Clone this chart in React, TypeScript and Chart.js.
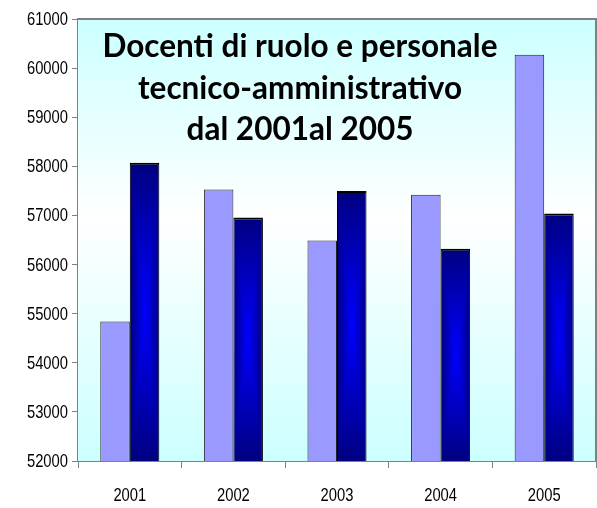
import React, { useEffect, useRef } from 'react';
import { Chart, registerables } from 'chart.js';

Chart.register(...registerables);

const years = ['2001', '2002', '2003', '2004', '2005'];
const seriesLight = [54840, 57530, 56490, 57420, 60270];
const seriesDark = [58075, 56960, 57500, 56320, 57040];
const yMin = 52000;
const yMax = 61000;
const yStep = 1000;
const titleLines = ['Docenti di ruolo e personale', 'tecnico-amministrativo', 'dal 2001al 2005'];

const CAT_PCT = 0.57;
const TICK_FONT = '"Liberation Sans", Arial, sans-serif';
const TICK_SIZE = 18;
const NARROW = 0.82;
const TITLE_FONT = 'Lato, "Open Sans", sans-serif';

function centerPattern(ctx: CanvasRenderingContext2D, bl: number, bt: number, bw: number, bh: number) {
  bw = Math.max(1, Math.round(bw));
  bh = Math.max(1, Math.round(bh));
  const off = document.createElement('canvas');
  off.width = bw;
  off.height = bh;
  const octx = off.getContext('2d') as CanvasRenderingContext2D;
  const img = octx.createImageData(bw, bh);
  const hw = bw / 2;
  const hh = bh / 2;
  for (let j = 0; j < bh; j++) {
    for (let i = 0; i < bw; i++) {
      const t = Math.min(1, Math.max(Math.abs(i + 0.5 - hw) / hw, Math.abs(j + 0.5 - hh) / hh));
      const k = (j * bw + i) * 4;
      img.data[k] = 0;
      img.data[k + 1] = 0;
      img.data[k + 2] = Math.round(255 - 127 * t);
      img.data[k + 3] = 255;
    }
  }
  octx.putImageData(img, 0, 0);
  const pat = ctx.createPattern(off, 'no-repeat');
  if (pat) pat.setTransform(new DOMMatrix().translate(Math.round(bl), Math.round(bt)));
  return pat;
}

function darkFill(c: any) {
  const chart = c.chart;
  const xs = chart.scales?.x;
  const ys = chart.scales?.y;
  const area = chart.chartArea;
  if (!xs || !ys || !area || c.dataIndex === undefined) return '#000080';
  const v = c.raw as number;
  const center = xs.getPixelForValue(c.dataIndex);
  const barW = ((area.right - area.left) / years.length) * CAT_PCT / 2;
  const top = ys.getPixelForValue(v);
  const base = ys.getPixelForValue(yMin);
  return centerPattern(chart.ctx, center, top, barW, base - top) || '#000080';
}

const backgroundPlugin = {
  id: 'plotBackground',
  beforeDatasetsDraw(chart: any) {
    const { ctx, chartArea } = chart;
    const { left, top, right, bottom } = chartArea;
    ctx.save();
    const g = ctx.createLinearGradient(0, top, 0, bottom);
    g.addColorStop(0, '#ccffff');
    g.addColorStop(0.45, '#ffffff');
    g.addColorStop(1, '#ccffff');
    ctx.fillStyle = g;
    ctx.fillRect(left, top, right - left, bottom - top);
    ctx.strokeStyle = '#808080';
    ctx.lineWidth = 2;
    ctx.beginPath();
    ctx.moveTo(left, top);
    ctx.lineTo(right, top);
    ctx.lineTo(right, bottom);
    ctx.stroke();
    ctx.restore();
  },
};

const labelsPlugin = {
  id: 'narrowTickLabels',
  afterDraw(chart: any) {
    const { ctx } = chart;
    const xs = chart.scales.x;
    const ys = chart.scales.y;
    ctx.save();
    ctx.font = `${TICK_SIZE}px ${TICK_FONT}`;
    ctx.fillStyle = '#000000';
    ctx.scale(NARROW, 1);
    ctx.textAlign = 'right';
    ctx.textBaseline = 'middle';
    ys.ticks.forEach((t: any, i: number) => {
      const y = ys.getPixelForTick(i);
      ctx.fillText(String(t.value), 68 / NARROW, y + 1);
    });
    ctx.textAlign = 'center';
    ctx.textBaseline = 'alphabetic';
    xs.ticks.forEach((t: any, i: number) => {
      const x = xs.getPixelForTick(i);
      ctx.fillText(String(xs.getLabelForValue(t.value)), x / NARROW, 501);
    });
    ctx.restore();
  },
};

const titlePlugin = {
  id: 'innerTitle',
  afterDatasetsDraw(chart: any) {
    const { ctx } = chart;
    ctx.save();
    let size = 28;
    ctx.font = `bold ${size}px ${TITLE_FONT}`;
    const w = ctx.measureText(titleLines[0]).width;
    size = size * 395 / w;
    ctx.font = `bold ${size}px ${TITLE_FONT}`;
    ctx.fillStyle = '#000000';
    ctx.textAlign = 'center';
    ctx.textBaseline = 'alphabetic';
    const baselines = [57, 98.5, 140];
    titleLines.forEach((line, i) => ctx.fillText(line, 300, baselines[i]));
    ctx.restore();
  },
};

export default function App() {
  const ref = useRef<HTMLCanvasElement | null>(null);
  useEffect(() => {
    if (!ref.current) return;
    const chart = new Chart(ref.current, {
      type: 'bar',
      data: {
        labels: years,
        datasets: [
          {
            label: 'Serie 1',
            data: seriesLight,
            backgroundColor: '#9999ff',
            borderColor: '#222222',
            borderWidth: 1,
            borderSkipped: 'bottom',
            categoryPercentage: CAT_PCT,
            barPercentage: 1,
          },
          {
            label: 'Serie 2',
            data: seriesDark,
            backgroundColor: darkFill,
            borderColor: '#000000',
            borderWidth: { top: 2, left: 1, right: 1, bottom: 0 },
            borderSkipped: 'bottom',
            categoryPercentage: CAT_PCT,
            barPercentage: 1,
          },
        ],
      },
      options: {
        animation: false,
        responsive: false,
        maintainAspectRatio: false,
        layout: { padding: { top: 19, right: 1, left: 0, bottom: 0 } },
        plugins: {
          legend: { display: false },
          title: { display: false },
          tooltip: { enabled: false },
        },
        scales: {
          x: {
            grid: { offset: true, drawOnChartArea: false, tickLength: 7, color: '#808080', lineWidth: 1 },
            border: { color: '#808080', width: 2 },
            ticks: { display: false, font: { family: TICK_FONT, size: TICK_SIZE } },
            afterFit(scale: any) {
              scale.height = 47;
            },
          },
          y: {
            min: yMin,
            max: yMax,
            grid: { drawOnChartArea: false, tickLength: 6, color: '#808080', lineWidth: 1 },
            border: { color: '#808080', width: 2 },
            ticks: {
              stepSize: yStep,
              display: false,
              font: { family: TICK_FONT, size: TICK_SIZE },
              callback: (v: any) => String(v),
            },
            afterFit(scale: any) {
              scale.width = 78;
            },
          },
        },
      },
      plugins: [backgroundPlugin, titlePlugin, labelsPlugin],
    });
    return () => chart.destroy();
  }, []);
  return (
    <div style={{ position: 'fixed', left: 0, top: 0, width: 597, height: 508, background: '#ffffff' }}>
      <canvas ref={ref} width={597} height={508} style={{ display: 'block' }} />
    </div>
  );
}
